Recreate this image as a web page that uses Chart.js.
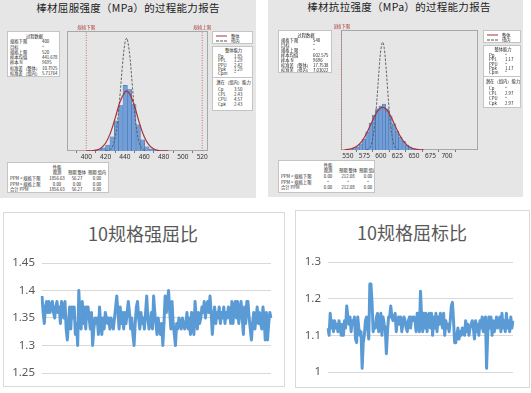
<!DOCTYPE html>
<html>
<head>
<meta charset="utf-8">
<script src="https://cdn.jsdelivr.net/npm/chart.js@4.4.1/dist/chart.umd.min.js"></script>
<style>
body{margin:0;width:531px;height:393px;overflow:hidden;background:#fff;font-family:"Noto Sans CJK SC","Noto Sans",sans-serif;position:relative;}
.panel{position:absolute;background:#e6e6e6;}
.box{position:absolute;background:#fff;border:1px solid #c4c4c4;box-sizing:border-box;overflow:hidden;}
.inner{position:absolute;left:0;top:0;transform:scale(0.5);transform-origin:0 0;font-size:8.6px;color:#222;}
.inner div{position:absolute;white-space:nowrap;line-height:10px;}
.mtitle{position:absolute;font-size:10.5px;line-height:12px;letter-spacing:0.3px;color:#222;white-space:nowrap;transform:translateX(-50%);}
.xl{position:absolute;border:1px solid #d9d9d9;box-sizing:border-box;background:#fff;}
.xtitle{position:absolute;font-size:18px;line-height:20px;color:#595959;white-space:nowrap;transform:translateX(-50%);}
canvas{position:absolute;}
</style>
</head>
<body>
<div class="panel" style="left:0;top:0;width:256px;height:198px"></div>
<div class="panel" style="left:268px;top:0;width:255px;height:197px"></div>
<div class="mtitle" style="left:128px;top:2px">棒材屈服强度（MPa）的过程能力报告</div>
<div class="mtitle" style="left:399px;top:1px">棒材抗拉强度（MPa）的过程能力报告</div>

<canvas id="ysChart" width="155" height="143" style="left:60px;top:20px"></canvas>
<canvas id="tsChart" width="151" height="143" style="left:334px;top:19px"></canvas>

<div class="xl" style="left:3px;top:212px;width:282px;height:175px"></div>
<div class="xl" style="left:295px;top:210px;width:235px;height:178px"></div>
<div class="xtitle" style="left:143px;top:223px">10规格强屈比</div>
<div class="xtitle" style="left:412px;top:222px">10规格屈标比</div>
<canvas id="ratioLeft" width="282" height="175" style="left:3px;top:212px"></canvas>
<canvas id="ratioRight" width="235" height="178" style="left:295px;top:210px"></canvas>

<script>
// ---- 棒材屈服强度 (yield strength) ----
const ys_bins = [408.75, 413.25, 417.75, 422.25, 426.75, 431.25, 435.75, 440.25, 444.75, 449.25, 453.75, 458.25, 462.75, 467.25, 471.75];
const ys_density = [0.0003, 0.0009, 0.0019, 0.0037, 0.0087, 0.0187, 0.0280, 0.0405, 0.0380, 0.0287, 0.0162, 0.0069, 0.0025, 0.0012, 0.0006];
const ys_overall_x = [400, 405, 410, 415, 420, 425, 430, 435, 440, 441.7, 445, 450, 455, 460, 465, 470, 475, 480, 485];
const ys_overall_y = [0.00002, 0.00011, 0.0005, 0.00174, 0.00491, 0.01119, 0.02058, 0.03052, 0.03653, 0.03697, 0.03526, 0.02746, 0.01725, 0.00874, 0.00358, 0.00118, 0.00031, 0.00007, 0.00001];
const ys_within_x = [420, 422.5, 425, 427.5, 430, 432.5, 435, 437.5, 440, 441.7, 442.5, 445, 447.5, 450, 452.5, 455, 457.5, 460, 462.5];
const ys_within_y = [0.00005, 0.00025, 0.00099, 0.00322, 0.00867, 0.01924, 0.03527, 0.05342, 0.06683, 0.06977, 0.06905, 0.05893, 0.04154, 0.02419, 0.01164, 0.00462, 0.00152, 0.00041, 0.0001];
const ys_ticks = [400, 420, 440, 460, 480, 500, 520];
const ys_lsl = 400, ys_usl = 520;

// ---- 棒材抗拉强度 (tensile strength) ----
const ts_bins = [559.5, 564.5, 569.5, 574.5, 579.5, 584.5, 589.5, 594.5, 599.5, 604.5, 609.5, 614.5, 619.5, 624.5, 629.5, 634.5, 639.5, 644.5, 649.5, 654.5, 659.5];
const ts_density = [0.0008, 0.0016, 0.0032, 0.0058, 0.0095, 0.0142, 0.0184, 0.0216, 0.0231, 0.0242, 0.0216, 0.0179, 0.0137, 0.0100, 0.0068, 0.0045, 0.0026, 0.0016, 0.0008, 0.0004, 0.0002];
const ts_overall_x = [545, 550, 555, 560, 565, 570, 575, 580, 585, 590, 595, 600, 602.6, 605, 610, 615, 620, 625, 630, 635, 640, 645, 650, 655, 660, 665];
const ts_overall_y = [0.00012, 0.00028, 0.00062, 0.00127, 0.00239, 0.00418, 0.00673, 0.01001, 0.01377, 0.01749, 0.02052, 0.02223, 0.02247, 0.02226, 0.02059, 0.01759, 0.01388, 0.01012, 0.00682, 0.00424, 0.00244, 0.00129, 0.00063, 0.00029, 0.00012, 0.00005];
const ts_within_x = [577.5, 580, 582.5, 585, 587.5, 590, 592.5, 595, 597.5, 600, 602.6, 605, 607.5, 610, 612.5, 615, 617.5, 620, 622.5, 625, 627.5];
const ts_within_y = [0.0001, 0.00033, 0.00096, 0.00249, 0.0057, 0.01146, 0.02032, 0.03176, 0.04373, 0.05307, 0.05675, 0.05347, 0.0444, 0.0325, 0.02095, 0.01191, 0.00596, 0.00263, 0.00102, 0.00035, 0.0001];
const ts_ticks = [550, 575, 600, 625, 650, 675, 700];
const ts_lsl = 540;

// report tables
const ys_proc = [['规格下限', '400'], ['目标', '*'], ['规格上限', '520'], ['样本均值', '441.678'], ['样本 N', '9695'], ['标准差（整体）', '10.7925'], ['标准差（组内）', '5.71764']];
const ts_proc = [['规格下限', '540'], ['目标', '*'], ['规格上限', '*'], ['样本均值', '602.575'], ['样本 N', '9696'], ['标准差（整体）', '17.7538'], ['标准差（组内）', '7.03022']];
const ys_cap_overall = [['Pp', '1.85'], ['PPL', '1.29'], ['PPU', '2.42'], ['Ppk', '1.29'], ['Cpm', '*']];
const ys_cap_within = [['Cp', '3.50'], ['CPL', '2.43'], ['CPU', '4.57'], ['Cpk', '2.43']];
const ts_cap_overall = [['Pp', '*'], ['PPL', '1.17'], ['PPU', '*'], ['Ppk', '1.17'], ['Cpm', '*']];
const ts_cap_within = [['Cp', '*'], ['CPL', '2.97'], ['CPU', '*'], ['Cpk', '2.97']];
const perf_cols = ['观测', '预期 整体', '预期 组内'];
const ys_perf = [['PPM < 规格下限', '1856.63', '56.27', '0.00'], ['PPM > 规格上限', '0.00', '0.00', '0.00'], ['合计 PPM', '1856.63', '56.27', '0.00']];
const ts_perf = [['PPM < 规格下限', '0.00', '212.08', '0.00'], ['PPM > 规格上限', '*', '*', '*'], ['合计 PPM', '0.00', '212.08', '0.00']];

// ---- 10规格 ratios (Excel line charts) ----
const ratio_ts_ys = [
  1.39, 1.36, 1.34, 1.37, 1.38, 1.36, 1.38, 1.36, 1.37, 1.38, 1.36, 1.35, 1.37, 1.38, 1.36, 1.37,
  1.34, 1.38, 1.37, 1.35, 1.38, 1.33, 1.31, 1.34, 1.37, 1.33, 1.37, 1.35, 1.37, 1.32, 1.34, 1.30,
  1.40, 1.35, 1.33, 1.38, 1.34, 1.37, 1.33, 1.37, 1.37, 1.35, 1.33, 1.36, 1.30, 1.33, 1.35, 1.34,
  1.35, 1.32, 1.37, 1.34, 1.32, 1.35, 1.33, 1.36, 1.35, 1.34, 1.35, 1.33, 1.35, 1.34, 1.33, 1.35,
  1.37, 1.39, 1.36, 1.33, 1.37, 1.34, 1.36, 1.33, 1.36, 1.34, 1.36, 1.38, 1.36, 1.33, 1.35, 1.32,
  1.30, 1.34, 1.37, 1.38, 1.35, 1.33, 1.36, 1.34, 1.35, 1.33, 1.36, 1.39, 1.35, 1.33, 1.34, 1.36,
  1.33, 1.39, 1.36, 1.34, 1.32, 1.35, 1.33, 1.32, 1.34, 1.30, 1.34, 1.39, 1.36, 1.38, 1.40, 1.36,
  1.33, 1.38, 1.34, 1.32, 1.30, 1.34, 1.33, 1.35, 1.34, 1.33, 1.35, 1.34, 1.33, 1.34, 1.36, 1.33,
  1.35, 1.32, 1.36, 1.34, 1.32, 1.38, 1.35, 1.33, 1.36, 1.34, 1.35, 1.37, 1.36, 1.38, 1.35, 1.37,
  1.38, 1.36, 1.39, 1.36, 1.32, 1.35, 1.37, 1.34, 1.36, 1.35, 1.37, 1.34, 1.36, 1.35, 1.37, 1.34,
  1.36, 1.35, 1.37, 1.36, 1.34, 1.38, 1.34, 1.37, 1.38, 1.35, 1.38, 1.34, 1.36, 1.38, 1.35, 1.32,
  1.37, 1.34, 1.38, 1.38, 1.35, 1.33, 1.31, 1.34, 1.36, 1.33, 1.35, 1.37, 1.34, 1.36, 1.34, 1.33,
  1.37, 1.35, 1.31, 1.36, 1.31, 1.34, 1.36, 1.35
];
const ratio_ys_ts = [
  1.12, 1.10, 1.16, 1.12, 1.14, 1.11, 1.14, 1.12, 1.13, 1.11, 1.14, 1.12, 1.10, 1.13, 1.10, 1.14,
  1.12, 1.18, 1.15, 1.13, 1.15, 1.11, 1.14, 1.13, 1.15, 1.09, 1.08, 1.15, 1.12, 1.10, 1.11, 1.01,
  1.08, 1.10, 1.14, 1.15, 1.12, 1.09, 1.24, 1.24, 1.19, 1.11, 1.13, 1.12, 1.15, 1.16, 1.11, 1.13,
  1.16, 1.10, 1.15, 1.13, 1.12, 1.05, 1.11, 1.15, 1.15, 1.18, 1.15, 1.14, 1.15, 1.16, 1.11, 1.14,
  1.15, 1.13, 1.15, 1.11, 1.13, 1.15, 1.14, 1.12, 1.11, 1.14, 1.15, 1.12, 1.15, 1.14, 1.15, 1.14,
  1.11, 1.16, 1.13, 1.11, 1.22, 1.15, 1.11, 1.16, 1.12, 1.16, 1.11, 1.15, 1.16, 1.12, 1.16, 1.10,
  1.15, 1.12, 1.16, 1.11, 1.15, 1.13, 1.16, 1.14, 1.12, 1.16, 1.10, 1.14, 1.12, 1.13, 1.11, 1.14,
  1.18, 1.19, 1.14, 1.08, 1.08, 1.10, 1.12, 1.09, 1.11, 1.10, 1.12, 1.11, 1.10, 1.14, 1.11, 1.13,
  1.10, 1.12, 1.13, 1.14, 1.12, 1.09, 1.14, 1.11, 1.13, 1.10, 1.14, 1.12, 1.15, 1.11, 1.14, 1.15,
  1.01, 1.10, 1.15, 1.12, 1.15, 1.10, 1.14, 1.11, 1.13, 1.15, 1.12, 1.13, 1.15, 1.11, 1.16, 1.12,
  1.14, 1.11, 1.16, 1.12, 1.14, 1.11, 1.15, 1.12, 1.14
];

// ---------- report text boxes (drawn at 2x, scaled down by .inner) ----------
function div(parent, cls, css, text) {
  const d = document.createElement('div');
  if (cls) d.className = cls;
  Object.assign(d.style, css);
  if (text !== undefined) d.textContent = text;
  parent.appendChild(d);
  return d;
}
function box(x, y, w, h) {
  const b = div(document.body, 'box', {left: x + 'px', top: y + 'px', width: w + 'px', height: h + 'px'});
  return div(b, 'inner', {width: (w * 2) + 'px', height: (h * 2) + 'px'});
}
// coordinates below are in real px, doubled for the scaled container
function center(b, text, cx, cy) {
  div(b, '', {left: (cx * 2) + 'px', top: (cy * 2 - 5) + 'px', transform: 'translateX(-50%)'}, text);
}
function left(b, text, x, cy) {
  div(b, '', {left: (x * 2) + 'px', top: (cy * 2 - 5) + 'px'}, text);
}
function hline(b, x, y, w, style) {
  div(b, '', {left: (x * 2) + 'px', top: (y * 2) + 'px', width: (w * 2) + 'px', height: '0', borderTop: style});
}

function procBox(x, y, w, h, rows, step, valX) {
  const b = box(x, y, w, h);
  center(b, '过程数据', w / 2, 3.5);
  rows.forEach((r, i) => {
    left(b, r[0], 2, 9 + i * step);
    left(b, r[1], valX, 9 + i * step);
  });
}
function legendBox(x, y, w, h) {
  const b = box(x, y, w, h);
  hline(b, 3, 3.5, 11, '2px solid #a8323a');
  hline(b, 3, 8.5, 11, '2px dashed #555');
  left(b, '整体', 18, 3.5);
  left(b, '组内', 18, 8.5);
}
function capBox(x, y, w, h, overall, within) {
  const b = box(x, y, w, h);
  center(b, '整体能力', w / 2, 3);
  overall.forEach((r, i) => {
    left(b, r[0], 5, 8.5 + i * 4.4);
    left(b, r[1], 21, 8.5 + i * 4.4);
  });
  hline(b, 0, 30, w, '2px solid #c4c4c4');
  center(b, '潜在（组内）能力', w / 2, 35);
  within.forEach((r, i) => {
    left(b, r[0], 5, 42 + i * 5);
    left(b, r[1], 21, 42 + i * 5);
  });
}
function perfBox(x, y, w, h, rows) {
  const b = box(x, y, w, h);
  const cols = [49, 69, 89];
  center(b, '性能', cols[0], 3.5);
  perf_cols.forEach((c, i) => center(b, c, cols[i], 9));
  rows.forEach((r, i) => {
    left(b, r[0], 2, 15 + i * 5.3);
    for (let k = 1; k < 4; k++) center(b, r[k], cols[k - 1], 15 + i * 5.3);
  });
}

procBox(7, 31, 53, 46, ys_proc, 5.3, 34);
legendBox(212, 31, 41, 13);
capBox(212, 46, 41, 65, ys_cap_overall, ys_cap_within);
perfBox(7, 162, 102, 31, ys_perf);

procBox(278, 30, 54, 43, ts_proc, 5.0, 34);
legendBox(483, 30, 38, 13);
capBox(483, 45, 38, 63, ts_cap_overall, ts_cap_within);
perfBox(278, 160, 97, 33, ts_perf);

// ---------- histograms ----------
const framePlugin = {
  id: 'frame',
  beforeDatasetsDraw(chart) {
    const {ctx, chartArea: a} = chart;
    ctx.save();
    ctx.strokeStyle = '#a8a8a8';
    ctx.lineWidth = 1;
    ctx.strokeRect(a.left + 0.5, a.top + 0.5, a.width - 1, a.height - 1);
    ctx.restore();
  },
  afterDraw(chart, args, opts) {
    const {ctx, chartArea: a} = chart;
    ctx.save();
    ctx.font = '4.5px "Noto Sans CJK SC"';
    ctx.fillStyle = '#b03a3a';
    ctx.textAlign = 'center';
    (opts.labels || []).forEach(l => {
      ctx.fillText(l.text, chart.scales.x.getPixelForValue(l.value), a.top - 2);
    });
    ctx.restore();
  }
};

function specLine(v, ymax) {
  return {
    type: 'line',
    data: [{x: v, y: 0}, {x: v, y: ymax}],
    borderColor: '#c0504d',
    borderWidth: 0.8,
    borderDash: [1, 1.5],
    pointRadius: 0
  };
}

function histChart(id, bins, dens, ox, oy, wx, wy, ticks, xmin, xmax, ymax, specs) {
  const datasets = [
    {
      type: 'bar',
      data: bins.map((b, i) => ({x: b, y: dens[i]})),
      backgroundColor: '#729fd7',
      borderColor: '#3f6ca8',
      borderWidth: 0.5,
      barPercentage: 1,
      categoryPercentage: 1,
      order: 3
    },
    {
      type: 'line',
      data: ox.map((x, i) => ({x: x, y: oy[i]})),
      borderColor: '#a8323a',
      borderWidth: 1.2,
      pointRadius: 0,
      tension: 0.4,
      order: 1
    },
    {
      type: 'line',
      data: wx.map((x, i) => ({x: x, y: wy[i]})),
      borderColor: '#555',
      borderWidth: 0.9,
      borderDash: [2.5, 1.5],
      pointRadius: 0,
      tension: 0.4,
      order: 2
    }
  ];
  specs.forEach(s => datasets.push(Object.assign(specLine(s.value, ymax), {order: 0})));
  new Chart(document.getElementById(id), {
    type: 'bar',
    data: {datasets: datasets},
    plugins: [framePlugin],
    options: {
      responsive: false,
      animation: false,
      devicePixelRatio: 1,
      layout: {padding: {left: 7, right: 7, top: 11, bottom: 0}},
      plugins: {legend: {display: false}, tooltip: {enabled: false}, frame: {labels: specs}},
      scales: {
        x: {
          type: 'linear',
          min: xmin,
          max: xmax,
          offset: false,
          afterBuildTicks: axis => { axis.ticks = ticks.map(v => ({value: v})); },
          afterFit: s => { s.height = 12; },
          grid: {drawOnChartArea: false, drawTicks: true, tickLength: 2, color: '#777'},
          border: {display: false},
          ticks: {padding: 0, maxRotation: 0, autoSkip: false, color: '#333', font: {size: 6.5, family: 'Noto Sans'}}
        },
        y: {display: false, min: 0, max: ymax}
      }
    }
  });
}

histChart('ysChart', ys_bins, ys_density, ys_overall_x, ys_overall_y, ys_within_x, ys_within_y,
  ys_ticks, 380, 526, 0.0741, [{value: ys_lsl, text: '规格下限'}, {value: ys_usl, text: '规格上限'}]);
histChart('tsChart', ts_bins, ts_density, ts_overall_x, ts_overall_y, ts_within_x, ts_within_y,
  ts_ticks, 539.5, 747, 0.0631, [{value: ts_lsl, text: '规格下限'}]);

// ---------- Excel style line charts ----------
function ratioChart(id, values, ymin, ymax, step, yWidth, pad) {
  new Chart(document.getElementById(id), {
    type: 'line',
    data: {
      labels: values.map((v, i) => i + 1),
      datasets: [{
        data: values,
        borderColor: '#5b9bd5',
        borderWidth: 3,
        pointRadius: 0,
        tension: 0,
        borderJoinStyle: 'round'
      }]
    },
    options: {
      responsive: false,
      animation: false,
      devicePixelRatio: 1,
      layout: {padding: pad},
      plugins: {legend: {display: false}, tooltip: {enabled: false}},
      scales: {
        x: {display: false},
        y: {
          min: ymin,
          max: ymax,
          afterFit: s => { s.width = yWidth; },
          grid: {color: '#d9d9d9', drawTicks: false},
          border: {display: false},
          ticks: {
            stepSize: step,
            padding: 7,
            color: '#595959',
            font: {size: 11.5, family: 'Noto Sans'},
            callback: v => String(+v.toFixed(2))
          }
        }
      }
    }
  });
}

ratioChart('ratioLeft', ratio_ts_ys, 1.25, 1.45, 0.05, 39, {left: 0, right: 14, top: 51, bottom: 14});
ratioChart('ratioRight', ratio_ys_ts, 1, 1.3, 0.1, 33, {left: 0, right: 17, top: 52, bottom: 16});
</script>
</body>
</html>
